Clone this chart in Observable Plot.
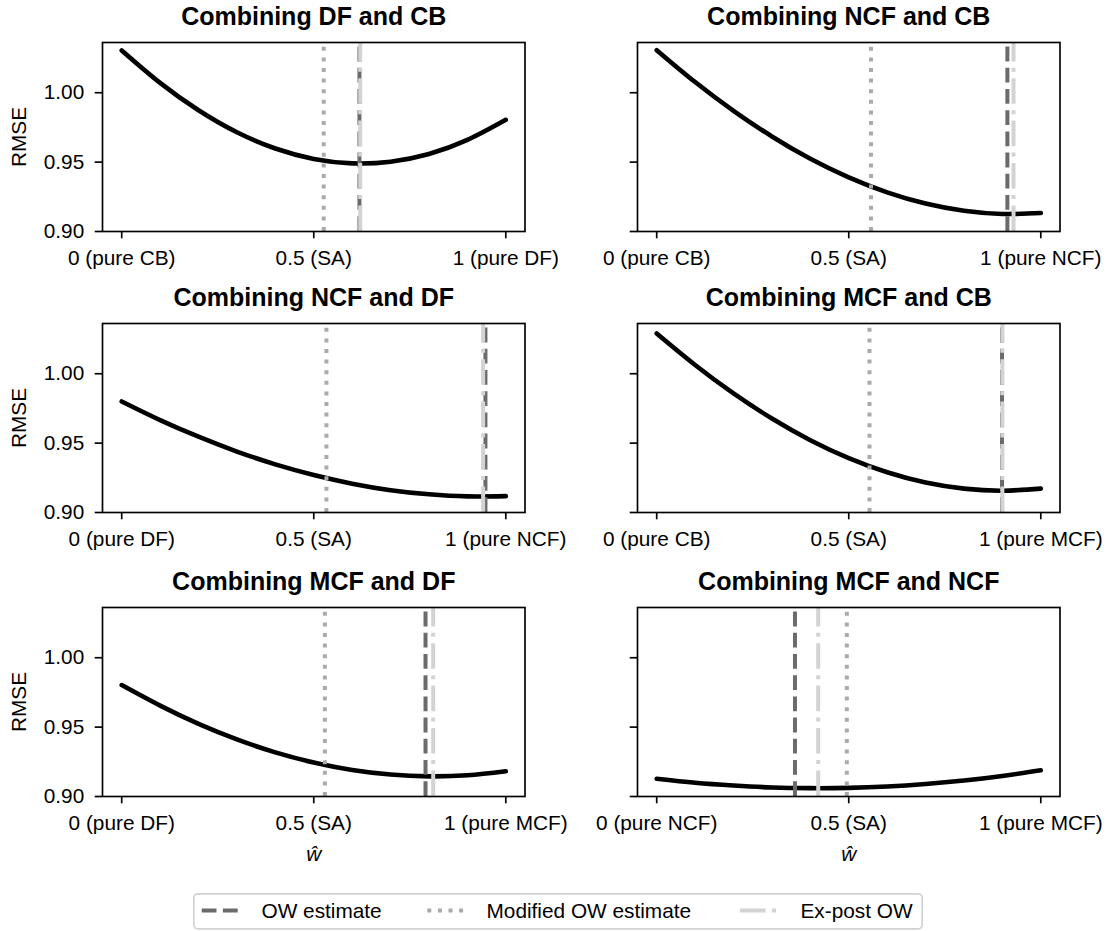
<!DOCTYPE html>
<html>
<head>
<meta charset="utf-8">
<script src="https://cdn.jsdelivr.net/npm/d3@7"></script>
<script src="https://cdn.jsdelivr.net/npm/@observablehq/plot@0.6"></script>
<style>
html, body { margin: 0; padding: 0; background: #fff; }
#chart { position: relative; width: 1110px; height: 931px; overflow: hidden; background: #fff;
  font-family: "Liberation Sans", Arial, Helvetica, sans-serif; }
#chart svg.panel { position: absolute; }
</style>
</head>
<body>
<div id="chart"></div>
<script>
// ---------------- data ----------------
const panelTitles = [
  "Combining DF and CB", "Combining NCF and CB",
  "Combining NCF and DF", "Combining MCF and CB",
  "Combining MCF and DF", "Combining MCF and NCF"
];
const tickLeftLabels = ["0 (pure CB)", "0 (pure CB)", "0 (pure DF)", "0 (pure CB)", "0 (pure DF)", "0 (pure NCF)"];
const tickMidLabel = "0.5 (SA)";
const tickRightLabels = ["1 (pure DF)", "1 (pure NCF)", "1 (pure NCF)", "1 (pure MCF)", "1 (pure MCF)", "1 (pure MCF)"];
const xTickValues = [0, 0.5, 1];
const yTickValues = [0.90, 0.95, 1.00];
const yLabel = "RMSE";
const xLabel = "\u0175";

const weights = [0, 0.1, 0.2, 0.3, 0.4, 0.5, 0.6, 0.7, 0.8, 0.9, 1.0];
const rmseDFCB   = [1.0305, 1.0071, 0.9874, 0.9715, 0.9598, 0.9523, 0.9491, 0.9503, 0.9559, 0.9660, 0.9805];
const rmseNCFCB  = [1.0307, 1.0077, 0.9870, 0.9685, 0.9524, 0.9390, 0.9282, 0.9201, 0.9149, 0.9126, 0.9133];
const rmseNCFDF  = [0.9800, 0.9666, 0.9546, 0.9439, 0.9347, 0.9270, 0.9208, 0.9161, 0.9131, 0.9116, 0.9118];
const rmseMCFCB  = [1.0290, 1.0063, 0.9858, 0.9677, 0.9521, 0.9392, 0.9290, 0.9216, 0.9172, 0.9157, 0.9172];
const rmseMCFDF  = [0.9803, 0.9655, 0.9524, 0.9412, 0.9318, 0.9245, 0.9191, 0.9158, 0.9145, 0.9153, 0.9182];
const rmseMCFNCF = [0.9128, 0.9099, 0.9079, 0.9065, 0.9060, 0.9062, 0.9072, 0.9090, 0.9115, 0.9148, 0.9189];
const rmseSeries = [rmseDFCB, rmseNCFCB, rmseNCFDF, rmseMCFCB, rmseMCFDF, rmseMCFNCF];

const owEstimate  = [0.619, 0.913, 0.947, 0.899, 0.791, 0.360];
const modifiedOW  = [0.526, 0.558, 0.533, 0.554, 0.529, 0.495];
const expostOW    = [0.621, 0.929, 0.941, 0.900, 0.811, 0.4205];

const legendLabels = ["OW estimate", "Modified OW estimate", "Ex-post OW"];

// ---------------- styling / layout ----------------
const xDomain = [-0.05, 1.05];
const yDomain = [0.90, 1.0362];
const lineStyles = [
  {stroke: "#6b6b6b", dash: "14.8,6.4"},
  {stroke: "#aaaaaa", dash: "4,6.6"},
  {stroke: "#d3d3d3", dash: "25.6,6.4,4,6.4"}
];
const vWidth = 4;
const fontFamily = '"Liberation Sans", Arial, Helvetica, sans-serif';
const colLeft = [102.2, 636.9];
const rowTop = [41.7, 323.3, 607.0];
const frameW = 422.5, frameH = 189;
const mL = 102, mR = 70, mT = 45, mB = 75;

const chart = document.getElementById("chart");

for (let i = 0; i < 6; i++) {
  const col = i % 2, row = Math.floor(i / 2);
  const data = weights.map((w, k) => ({w, rmse: rmseSeries[i][k]}));
  const vlines = [owEstimate[i], modifiedOW[i], expostOW[i]];
  const marks = [
    Plot.line(data, {x: "w", y: "rmse", stroke: "black", strokeWidth: 4.6, curve: "natural"}),
    ...vlines.map((v, j) => Plot.ruleX([v], {
      x: d => d, y1: yDomain[0], y2: yDomain[1],
      stroke: lineStyles[j].stroke, strokeWidth: vWidth,
      strokeDasharray: lineStyles[j].dash, strokeLinecap: "butt"
    })),
    Plot.axisX({
      ticks: xTickValues,
      tickFormat: d => d === 0 ? tickLeftLabels[i] : d === 1 ? tickRightLabels[i] : tickMidLabel,
      tickSize: 7.3, tickPadding: 11.5, fontSize: 20.8, strokeWidth: 1.67, label: null
    }),
    Plot.axisY({
      ticks: yTickValues,
      tickFormat: col === 0 ? d3.format(".2f") : () => "",
      tickSize: 7.3, tickPadding: 11, fontSize: 20.8, strokeWidth: 1.67, label: null
    }),
    Plot.frame({stroke: "black", strokeWidth: 1.67}),
    Plot.text([panelTitles[i]], {
      text: d => d, frameAnchor: "top", dy: -17.5, lineAnchor: "bottom",
      fontSize: 25, fontWeight: "bold"
    })
  ];
  if (col === 0) {
    marks.push(Plot.text([yLabel], {
      text: d => d, frameAnchor: "left", dx: -83.5, rotate: -90,
      fontSize: 20.8, lineAnchor: "middle", textAnchor: "middle"
    }));
  }
  if (row === 2) {
    marks.push(Plot.text([xLabel], {
      text: d => d, frameAnchor: "bottom", dy: 64, lineAnchor: "bottom",
      fontSize: 20.8, fontStyle: "italic"
    }));
  }
  const svg = Plot.plot({
    width: mL + frameW + mR,
    height: mT + frameH + mB,
    marginLeft: mL, marginRight: mR, marginTop: mT, marginBottom: mB,
    x: {domain: xDomain},
    y: {domain: yDomain},
    style: {background: "transparent", overflow: "visible", fontFamily, fontSize: "20.8px", color: "black"},
    marks
  });
  svg.classList.add("panel");
  svg.style.left = (colLeft[col] - mL) + "px";
  svg.style.top = (rowTop[row] - mT) + "px";
  svg.style.maxWidth = "none";
  chart.appendChild(svg);
}

// ---------------- legend ----------------
const ns = "http://www.w3.org/2000/svg";
const leg = document.createElementNS(ns, "svg");
leg.setAttribute("width", 1110);
leg.setAttribute("height", 60);
leg.style.position = "absolute";
leg.style.left = "0px";
leg.style.top = "875px";
leg.style.fontFamily = fontFamily;
const box = document.createElementNS(ns, "rect");
box.setAttribute("x", 193.8); box.setAttribute("y", 18.8);
box.setAttribute("width", 728.4); box.setAttribute("height", 35);
box.setAttribute("rx", 4); box.setAttribute("fill", "white");
box.setAttribute("stroke", "#d2d2d2"); box.setAttribute("stroke-width", 1.7);
leg.appendChild(box);
const sampleX = [201.7, 427.3, 740.0];
const textX = [261.5, 486.5, 800.5];
legendLabels.forEach((lab, j) => {
  const ln = document.createElementNS(ns, "line");
  ln.setAttribute("x1", sampleX[j]); ln.setAttribute("x2", sampleX[j] + 41.7);
  ln.setAttribute("y1", 35.5); ln.setAttribute("y2", 35.5);
  ln.setAttribute("stroke", lineStyles[j].stroke);
  ln.setAttribute("stroke-width", vWidth);
  ln.setAttribute("stroke-dasharray", lineStyles[j].dash);
  leg.appendChild(ln);
  const t = document.createElementNS(ns, "text");
  t.setAttribute("x", textX[j]); t.setAttribute("y", 42.5);
  t.setAttribute("font-size", 20.8);
  t.textContent = lab;
  leg.appendChild(t);
});
chart.appendChild(leg);
</script>
</body>
</html>
